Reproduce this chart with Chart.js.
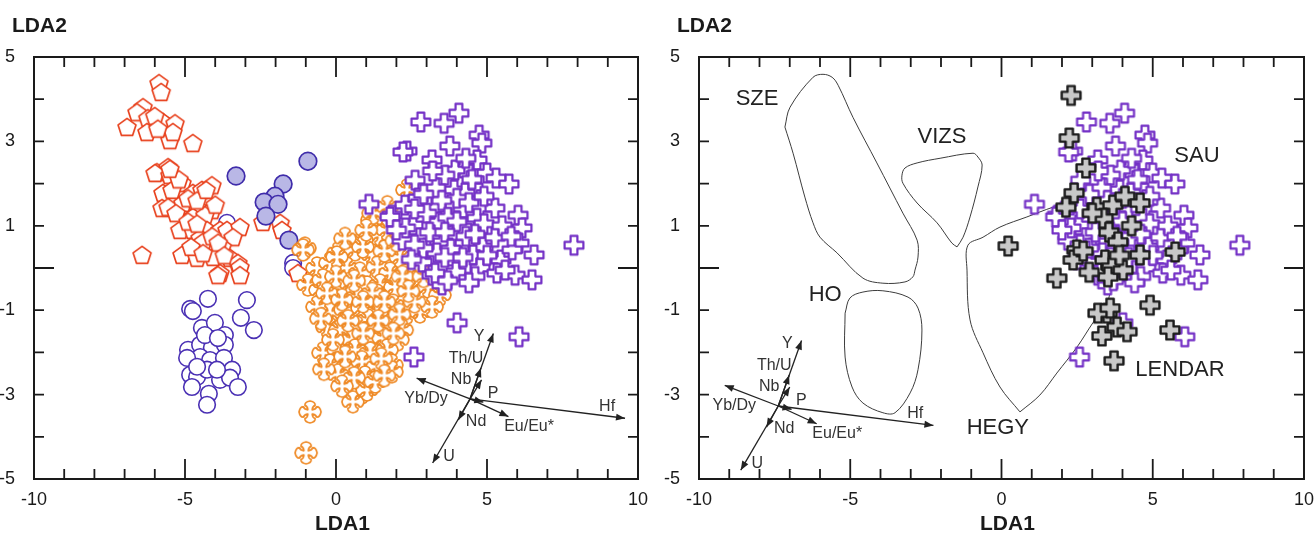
<!DOCTYPE html>
<html>
<head>
<meta charset="utf-8">
<script src="https://cdn.jsdelivr.net/npm/chart.js@4.4.1/dist/chart.umd.min.js"></script>
<style>
    body { margin: 0; background: #fff; width: 1316px; height: 535px; overflow: hidden; position: relative; }
    canvas { position: absolute; top: 0; }
</style>
</head>
<body>
<canvas id="leftChart" width="658" height="535" style="left:0"></canvas>
<canvas id="rightChart" width="658" height="535" style="left:658px"></canvas>
<script>
// ---- data (LDA1, LDA2) ----

// red pentagons
const pentagonPts = [
    [-5.86, 4.38], [-5.79, 4.17], [-6.39, 3.81], [-6.59, 3.69], [-6.92, 3.34], [-6.23, 3.55],
    [-6.26, 3.22], [-5.73, 3.46], [-5.33, 3.43], [-5.50, 3.03], [-5.40, 3.22], [-4.74, 2.96],
    [-5.93, 2.27], [-5.56, 2.39], [-5.99, 2.25], [-5.50, 2.20], [-5.10, 2.01], [-5.73, 1.78],
    [-5.43, 1.85], [-4.74, 1.78], [-4.44, 1.85], [-4.11, 1.96], [-5.76, 1.42], [-5.56, 1.44],
    [-5.07, 1.54], [-4.57, 1.42], [-4.11, 1.37], [-4.74, 1.21], [-4.34, 1.25], [-5.17, 0.90],
    [-4.74, 0.90], [-4.27, 0.90], [-4.50, 0.71], [-3.84, 0.90], [-3.61, 0.90], [-3.18, 0.97],
    [-3.41, 0.73], [-2.42, 1.09], [-1.85, 1.07], [-1.79, 0.90], [-4.40, 0.62], [-3.77, 0.50],
    [-6.42, 0.31], [-5.10, 0.31], [-4.60, 0.24], [-4.07, 0.26], [-3.51, 0.24], [-3.25, 0.12],
    [-3.84, -0.12], [-3.18, 0.02], [-3.18, -0.17], [-3.91, -0.17], [-1.26, -0.12],
    [-5.20, 2.10], [-4.90, 1.65], [-4.60, 1.60], [-4.00, 1.50], [-5.30, 1.30], [-4.90, 1.10],
    [-4.60, 1.05], [-4.10, 0.75], [-3.90, 0.60], [-4.80, 0.50], [-4.40, 0.35], [-3.70, 0.30],
    [-5.50, 2.35], [-4.30, 1.85], [-6.00, 3.60], [-5.90, 3.30]
];

// blue open circles
const openCirclePts = [
    [-4.24, -0.73], [-4.83, -0.97], [-4.74, -1.02], [-2.95, -0.76], [-3.15, -1.18], [-2.72, -1.47],
    [-4.44, -1.42], [-4.01, -1.30], [-3.68, -1.59], [-4.90, -1.94], [-4.50, -1.82], [-4.11, -1.89],
    [-3.68, -1.82], [-4.50, -2.11], [-4.17, -2.18], [-3.71, -2.13], [-4.83, -2.53], [-4.60, -2.58],
    [-4.27, -2.41], [-3.84, -2.65], [-3.44, -2.41], [-3.51, -2.60], [-4.77, -2.82], [-3.25, -2.82],
    [-4.21, -2.98], [-4.27, -3.24], [-4.93, -2.13], [-4.60, -2.34], [-3.94, -2.41], [-4.34, -1.59],
    [-3.91, -1.66], [-3.61, 1.07], [-1.42, 0.12], [-1.42, 0.00]
];

// blue filled circles
const filledCirclePts = [
    [-3.31, 2.18], [-0.93, 2.53], [-1.75, 1.99], [-2.02, 1.70], [-2.38, 1.56], [-1.92, 1.51],
    [-2.32, 1.23], [-1.56, 0.66]
];

// orange flower crosses
const flowerPts = [
    [2.35, 1.85], [1.19, 1.14], [1.46, 0.78], [0.86, 0.66], [0.07, 0.36], [0.63, 0.43],
    [1.79, 0.54], [2.12, 0.26], [1.19, 0.31], [-1.03, 0.47], [1.23, 1.30], [1.69, 0.90],
    [-0.63, 0.00], [-0.20, 0.12], [0.36, 0.00], [0.79, -0.12], [1.36, 0.02], [1.79, -0.12],
    [2.28, -0.17], [2.72, 0.00], [-0.93, -0.40], [-0.53, -0.52], [-0.03, -0.45], [0.46, -0.36],
    [1.03, -0.45], [1.46, -0.40], [1.95, -0.45], [2.45, -0.52], [3.05, -0.45], [3.44, -0.64],
    [0.70, -0.69], [1.36, -0.64], [-0.20, -0.71], [-0.63, -0.92], [-0.20, -1.07], [0.30, -0.99],
    [0.86, -0.95], [1.36, -1.04], [1.89, -0.88], [2.35, -1.07], [2.78, -1.04], [3.18, -0.92],
    [1.06, -1.23], [-0.30, -1.40], [0.13, -1.47], [0.70, -1.40], [1.19, -1.42], [1.69, -1.42],
    [2.19, -1.47], [0.53, -1.70], [1.06, -1.70], [1.56, -1.66], [2.05, -1.70], [-0.43, -2.01],
    [0.07, -1.94], [0.63, -1.94], [1.13, -2.01], [1.69, -1.94], [-0.20, -2.30], [0.36, -2.34],
    [0.86, -2.22], [1.36, -2.34], [1.85, -2.30], [0.07, -2.53], [0.96, -2.58], [1.85, -2.46],
    [0.86, -2.96], [0.56, -3.17], [1.03, -2.89], [-0.86, -3.41], [-0.99, -4.38], [-1.09, 0.43],
    [-0.43, -0.28], [0.03, 0.26], [0.89, 0.50],
    [0.30, 0.70], [1.00, 0.90], [1.60, 0.40], [2.00, 0.65], [0.00, -0.20], [0.60, -0.30],
    [1.20, -0.60], [2.20, -0.20], [2.60, -0.80], [-0.30, -0.60], [0.20, -0.75], [0.90, -0.80],
    [1.60, -0.80], [2.10, -1.10], [-0.50, -1.20], [0.40, -1.25], [1.40, -1.25], [0.90, -1.55],
    [-0.10, -1.70], [1.90, -1.55], [0.30, -2.10], [1.50, -2.15], [0.60, -2.60], [1.30, -2.70],
    [-0.40, -2.40], [1.60, -2.55], [0.20, -2.80], [2.40, -0.55], [2.90, -0.20], [1.70, 1.45]
];

// purple crosses (SAU)
const sauPts = [
    [4.07, 3.67], [3.58, 3.43], [2.81, 3.46], [4.74, 3.15], [4.83, 2.96], [3.77, 2.89],
    [2.35, 2.77], [2.22, 2.75], [3.18, 2.56], [4.67, 2.56], [4.21, 2.37], [3.94, 2.32],
    [4.30, 2.60], [5.00, 2.25], [5.30, 2.13], [5.73, 1.99], [2.62, 2.08], [4.54, 1.92],
    [3.91, 1.85], [4.27, 1.78], [1.09, 1.51], [2.72, 1.66], [2.28, 1.49], [3.28, 1.42],
    [3.94, 1.49], [4.21, 1.42], [4.77, 1.42], [5.26, 1.42], [6.03, 1.25], [1.85, 1.25],
    [2.55, 1.02], [3.38, 1.09], [4.17, 0.97], [4.67, 1.18], [6.16, 0.95], [2.19, 0.66],
    [3.01, 0.47], [3.54, 0.62], [4.27, 0.59], [4.87, 0.50], [5.26, 0.73], [6.06, 0.59],
    [6.56, 0.31], [7.88, 0.54], [2.85, 0.14], [3.34, 0.36], [4.01, 0.14], [4.54, 0.31],
    [5.46, 0.19], [5.83, 0.43], [3.18, -0.17], [3.51, -0.40], [3.97, -0.09], [4.77, 0.00],
    [5.33, -0.12], [5.93, -0.17], [6.49, -0.28], [1.79, 1.21], [2.88, 0.47], [3.28, -0.12],
    [4.01, -1.30], [6.06, -1.63], [2.58, -2.11],
    [3.60, 2.20], [4.50, 2.10], [3.30, 1.90], [4.00, 1.65], [3.50, 1.60], [4.40, 1.55],
    [3.00, 1.30], [3.70, 1.20], [4.00, 1.10], [4.90, 1.05], [3.10, 0.85], [3.60, 0.85],
    [4.30, 0.75], [4.60, 0.80], [2.60, 0.55], [3.80, 0.45], [5.00, 0.30], [3.60, 0.25],
    [4.20, 0.25], [2.50, 0.20], [4.60, -0.20], [5.60, -0.05], [3.70, -0.30], [2.90, 1.75],
    [5.50, 1.00], [5.80, 0.75], [4.40, -0.35], [2.30, 0.95], [3.20, 2.30], [4.90, 1.70],
    [2.00, 0.90], [2.60, 1.40]
];

// grey crosses (LENDAR)
const lendarPts = [
    [2.30, 4.09], [2.24, 3.08], [2.79, 2.37], [2.40, 1.78], [2.13, 1.44], [3.15, 1.44],
    [3.68, 1.49], [4.08, 1.70], [4.58, 1.54], [3.36, 1.18], [3.55, 0.85], [3.85, 0.62],
    [0.22, 0.52], [2.49, 0.43], [2.37, 0.19], [3.42, 0.19], [3.65, 0.02], [4.58, 0.31],
    [5.74, 0.38], [1.83, -0.24], [3.52, -0.21], [4.02, -0.05], [3.49, -1.07], [3.19, -1.07],
    [3.59, -0.95], [4.91, -0.88], [3.32, -1.61], [3.82, -1.40], [4.15, -1.51], [5.57, -1.47],
    [3.72, -2.20], [3.00, 1.30], [2.70, 0.40], [3.90, 0.30], [4.30, 1.00], [2.90, -0.10]
];

// field outlines (right panel)
const szeOutline = [
    [-7.16, 3.34], [-6.99, 3.81], [-6.23, 4.52], [-5.90, 4.59], [-5.60, 4.52], [-5.40, 4.33],
    [-4.91, 3.57], [-4.12, 2.49], [-3.26, 1.30], [-2.79, 0.66], [-2.76, 0.26], [-2.86, -0.05],
    [-2.93, -0.21], [-3.19, -0.33], [-3.92, -0.36], [-4.58, -0.24], [-5.44, 0.36], [-6.00, 0.73],
    [-6.23, 1.07], [-6.50, 1.68], [-6.89, 2.72], [-7.16, 3.34]
];
const vizsOutline = [
    [-1.47, 0.50], [-1.64, 0.59], [-2.13, 1.07], [-2.79, 1.54], [-3.26, 2.01], [-3.29, 2.20],
    [-3.19, 2.37], [-2.79, 2.49], [-2.03, 2.60], [-0.94, 2.72], [-0.78, 2.63], [-0.64, 2.44],
    [-0.78, 1.92], [-1.04, 1.21], [-1.27, 0.73], [-1.47, 0.50]
];
const hoOutline = [
    [-5.17, -1.07], [-5.01, -0.71], [-4.58, -0.57], [-3.92, -0.54], [-3.09, -0.69], [-2.76, -0.95],
    [-2.63, -1.47], [-2.76, -2.41], [-3.02, -2.96], [-3.52, -3.43], [-3.92, -3.43], [-4.58, -3.20],
    [-4.94, -2.82], [-5.17, -2.11], [-5.17, -1.07]
];
const hegyOutline = [
    [0.61, -3.41], [-0.05, -2.82], [-0.61, -2.01], [-1.04, -1.23], [-1.14, -0.05], [-1.11, 0.54],
    [-0.61, 0.73], [-0.05, 0.97], [0.84, 1.21], [1.70, 1.44], [2.53, 1.61], [2.93, 1.21],
    [3.26, 0.73], [3.59, -0.36], [3.49, -0.83], [3.02, -1.30], [2.50, -1.87], [1.83, -2.49],
    [1.27, -3.01], [0.61, -3.41]
];

const fieldNames = ['SZE', 'VIZS', 'HO', 'HEGY', 'SAU', 'LENDAR'];
const fieldLabelX = [-8.08, -1.97, -5.83, -0.12, 6.46, 5.90];
const fieldLabelY = [4.00, 3.10, -0.64, -3.79, 2.65, -2.41];

// discriminant loadings (biplot arrows)
const loadingNames = ['Y', 'Th/U', 'Nb', 'Yb/Dy', 'P', 'Hf', 'Eu/Eu*', 'Nd', 'U'];
const loadingDX = [0.77, 0.36, 0.38, -1.77, 0.44, 5.13, 1.27, -0.39, -1.24];
const loadingDY = [1.55, 0.73, 0.45, 0.49, -0.08, -0.46, -0.42, -0.50, -1.52];

const xTickMarks = [-10, -5, 0, 5, 10];
const yTickMarks = [-5, -3, -1, 1, 3, 5];

// ---- styling ----
const FONT = '"Liberation Sans", Arial, sans-serif';
const INK = '#1a1a1a';
// label offsets (px) from the biplot origin
const loadingLabelOffsets = [[9, -62], [-4, -40], [-9, -19], [-44, 0], [23, -5], [137, 8], [59, 28], [6, 23], [-21, 58]];

// Helper to build a marker image for pointStyle
function makeMarker(size, drawPath, fill, stroke, lw) {
    const c = document.createElement('canvas');
    c.width = size;
    c.height = size;
    const ctx = c.getContext('2d');
    ctx.translate(size / 2, size / 2);
    ctx.beginPath();
    drawPath(ctx);
    ctx.closePath();
    ctx.fillStyle = fill;
    ctx.fill();
    ctx.strokeStyle = stroke;
    ctx.lineWidth = lw;
    ctx.lineJoin = 'round';
    ctx.stroke();
    return c;
}

function pentagonPath(ctx) {
    const r = 9.4;
    for (let i = 0; i < 5; i++) {
        const a = -Math.PI / 2 + i * 2 * Math.PI / 5;
        if (i === 0) ctx.moveTo(r * Math.cos(a), r * Math.sin(a) + 0.8);
        else ctx.lineTo(r * Math.cos(a), r * Math.sin(a) + 0.8);
    }
}

function crossPath(h, a) {
    return function (ctx) {
        const p = [[-a, -h], [a, -h], [a, -a], [h, -a], [h, a], [a, a], [a, h], [-a, h], [-a, a], [-h, a], [-h, -a], [-a, -a]];
        p.forEach((q, i) => i ? ctx.lineTo(q[0], q[1]) : ctx.moveTo(q[0], q[1]));
    };
}

// four-lobed cross with slightly pointed lobe tips
function flowerPath(ctx) {
    const s = 11;
    ctx.save();
    ctx.moveTo(-0.2 * s, -0.2 * s);
    for (let k = 0; k < 4; k++) {
        ctx.quadraticCurveTo(-0.22 * s, -0.5 * s, -0.46 * s, -0.6 * s);
        ctx.quadraticCurveTo(-0.5 * s, -0.9 * s, 0, -1.0 * s);
        ctx.quadraticCurveTo(0.5 * s, -0.9 * s, 0.46 * s, -0.6 * s);
        ctx.quadraticCurveTo(0.22 * s, -0.5 * s, 0.2 * s, -0.2 * s);
        ctx.rotate(Math.PI / 2);
    }
    ctx.restore();
}

const pentagonImg = makeMarker(26, pentagonPath, '#ffffff', '#e8421e', 1.7);
const flowerImg = makeMarker(28, flowerPath, '#ffffff', '#ef8a26', 1.7);
const sauImg = makeMarker(26, crossPath(9.4, 3.4), '#ffffff', '#7431c6', 2.2);
const lendarImg = makeMarker(26, crossPath(9.4, 3.6), '#c8c8c8', '#1c1c1c', 2.4);

function toXY(arr) {
    return arr.map(p => ({ x: p[0], y: p[1] }));
}

function markerSet(pts, img, order) {
    return { data: toXY(pts), pointStyle: img, pointRadius: 9, order: order };
}

function outlineSet(pts) {
    return {
        data: toXY(pts), showLine: true, tension: 0.35, pointRadius: 0,
        borderColor: '#3c3c3c', borderWidth: 1, order: 10
    };
}

function drawArrow(ctx, x0, y0, x1, y1) {
    const ang = Math.atan2(y1 - y0, x1 - x0);
    ctx.beginPath();
    ctx.moveTo(x0, y0);
    ctx.lineTo(x1, y1);
    ctx.stroke();
    ctx.beginPath();
    ctx.moveTo(x1, y1);
    ctx.lineTo(x1 - 9 * Math.cos(ang) + 3.5 * Math.sin(ang), y1 - 9 * Math.sin(ang) - 3.5 * Math.cos(ang));
    ctx.lineTo(x1 - 9 * Math.cos(ang) - 3.5 * Math.sin(ang), y1 - 9 * Math.sin(ang) + 3.5 * Math.cos(ang));
    ctx.closePath();
    ctx.fill();
}

// Plugin: frame with inward ticks, axis titles, biplot arrows, field labels
const decorPlugin = {
    id: 'decor',
    afterDatasetsDraw(chart, args, opts) {
        const ctx = chart.ctx;
        const area = chart.chartArea;
        const xs = chart.scales.x;
        const ys = chart.scales.y;
        ctx.save();

        // field labels
        if (opts.fieldLabels) {
            ctx.fillStyle = '#222';
            ctx.font = '22px ' + FONT;
            ctx.textAlign = 'center';
            ctx.textBaseline = 'middle';
            fieldNames.forEach((name, i) => {
                ctx.fillText(name, xs.getPixelForValue(fieldLabelX[i]), ys.getPixelForValue(fieldLabelY[i]));
            });
        }

        // biplot arrows
        const ox = xs.getPixelForValue(opts.origin[0]);
        const oy = ys.getPixelForValue(opts.origin[1]);
        ctx.strokeStyle = '#222';
        ctx.fillStyle = '#222';
        ctx.lineWidth = 1.3;
        loadingNames.forEach((name, i) => {
            const tx = xs.getPixelForValue(opts.origin[0] + loadingDX[i]);
            const ty = ys.getPixelForValue(opts.origin[1] + loadingDY[i]);
            drawArrow(ctx, ox, oy, tx, ty);
        });
        ctx.fillStyle = '#333';
        ctx.font = '16px ' + FONT;
        ctx.textAlign = 'center';
        ctx.textBaseline = 'middle';
        loadingNames.forEach((name, i) => {
            ctx.fillText(name, ox + loadingLabelOffsets[i][0], oy + loadingLabelOffsets[i][1]);
        });

        // frame
        ctx.strokeStyle = INK;
        ctx.lineWidth = 2;
        ctx.strokeRect(area.left, area.top, area.right - area.left, area.bottom - area.top);

        // inward tick marks
        ctx.lineWidth = 1.8;
        ctx.beginPath();
        for (let v = -9; v <= 9; v++) {
            const px = xs.getPixelForValue(v);
            const len = v % 5 === 0 ? 20 : 10;
            ctx.moveTo(px, area.bottom); ctx.lineTo(px, area.bottom - len);
            ctx.moveTo(px, area.top); ctx.lineTo(px, area.top + len);
        }
        for (let v = -4; v <= 4; v++) {
            const py = ys.getPixelForValue(v);
            const len = v === 0 ? 20 : 10;
            ctx.moveTo(area.left, py); ctx.lineTo(area.left + len, py);
            ctx.moveTo(area.right, py); ctx.lineTo(area.right - len, py);
        }
        ctx.stroke();

        // axis titles
        ctx.fillStyle = INK;
        ctx.font = 'bold 21px ' + FONT;
        ctx.textAlign = 'left';
        ctx.textBaseline = 'alphabetic';
        ctx.fillText('LDA2', opts.yTitleX, 32);
        ctx.fillText('LDA1', opts.xTitleX, 530);
        ctx.restore();
    }
};

function makeChart(canvasId, datasets, axisWidth, rightPad, decor) {
    const ctx = document.getElementById(canvasId).getContext('2d');
    return new Chart(ctx, {
        type: 'scatter',
        data: { datasets: datasets },
        options: {
            responsive: false,
            animation: false,
            events: [],
            layout: { padding: { top: 57, right: rightPad, left: 0, bottom: 0 } },
            plugins: { legend: { display: false }, tooltip: { enabled: false }, decor: decor },
            scales: {
                x: {
                    type: 'linear', position: 'bottom', min: -10, max: 10,
                    afterBuildTicks: s => { s.ticks = xTickMarks.map(v => ({ value: v })); },
                    ticks: { autoSkip: false, maxRotation: 0, padding: 2, color: INK, font: { size: 18, family: FONT } },
                    grid: { display: false },
                    border: { display: false },
                    afterFit: s => { s.height = 56; }
                },
                y: {
                    type: 'linear', position: 'left', min: -5, max: 5,
                    afterBuildTicks: s => { s.ticks = yTickMarks.map(v => ({ value: v })); },
                    ticks: { autoSkip: false, padding: 11, color: INK, font: { size: 18, family: FONT } },
                    grid: { display: false },
                    border: { display: false },
                    afterFit: s => { s.width = axisWidth; }
                }
            }
        },
        plugins: [decorPlugin]
    });
}

// left panel
makeChart('leftChart', [
    markerSet(sauPts, sauImg, 0),
    markerSet(flowerPts, flowerImg, 1),
    Object.assign(markerSet(filledCirclePts, 'circle', 2), {
        pointRadius: 8.8, backgroundColor: '#b9b7e6', borderColor: '#3f2caa', borderWidth: 1.7
    }),
    markerSet(pentagonPts, pentagonImg, 3),
    Object.assign(markerSet(openCirclePts, 'circle', 4), {
        pointRadius: 8.3, backgroundColor: '#ffffff', borderColor: '#4a30b4', borderWidth: 1.6
    })
], 34, 20, { origin: [4.44, -3.10], yTitleX: 12, xTitleX: 315, fieldLabels: false });

// right panel
makeChart('rightChart', [
    markerSet(lendarPts, lendarImg, 0),
    markerSet(sauPts, sauImg, 1),
    outlineSet(szeOutline),
    outlineSet(vizsOutline),
    outlineSet(hoOutline),
    outlineSet(hegyOutline)
], 41, 12, { origin: [-7.38, -3.27], yTitleX: 19, xTitleX: 322, fieldLabels: true });
</script>
</body>
</html>
